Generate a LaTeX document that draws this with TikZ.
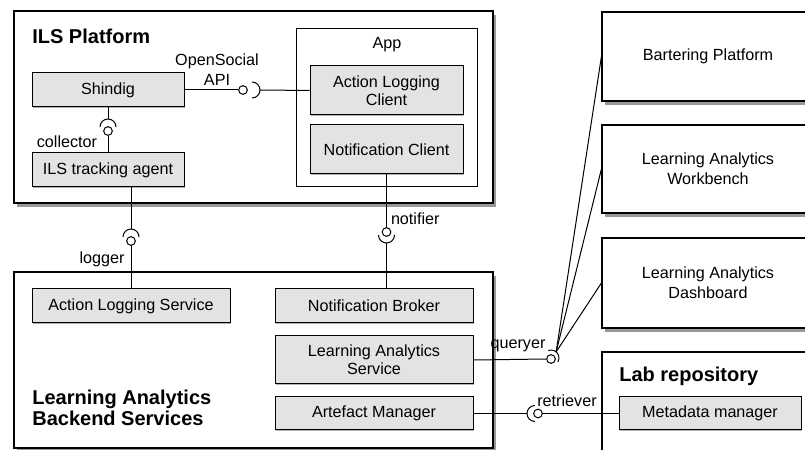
\documentclass[tikz,border=0pt]{standalone}
\usepackage{fontspec}
\setmainfont{Liberation Sans}
\usetikzlibrary{positioning, shadows}

\begin{document}
\begin{tikzpicture}[x=0.6pt, y=-0.6pt, font=\fontsize{9.7}{11}\selectfont,
    outer/.style={draw, line width=0.7pt, fill=white, inner sep=0pt, align=center,
        font=\fontsize{9.7}{12}\selectfont,
        drop shadow={shadow xshift=1.5pt, shadow yshift=-2.2pt, fill=black!40, opacity=1}},
    frame/.style={draw, line width=0.6pt, fill=white, inner sep=0pt},
    comp/.style={draw, line width=0.6pt, fill=gray!22, align=center, inner sep=0pt,
        drop shadow={shadow xshift=0.6pt, shadow yshift=-0.6pt, fill=black!30, opacity=1}},
    title/.style={font=\fontsize{12}{12.8}\selectfont\bfseries, anchor=west, align=left, inner sep=0pt},
    ball/.style={circle, draw, line width=0.6pt, fill=white, inner sep=0pt, minimum size=5.2pt},
    sock/.style={circle, inner sep=0pt, outer sep=0pt, minimum size=9.6pt},
    lbl/.style={inner sep=1pt},
    wire/.style={line width=0.6pt}]
    \useasboundingbox (0,0) rectangle (805,450);

    % ILS platform with the app inside
    \node[outer, minimum width=287.4pt, minimum height=115.2pt] (ils) at (253.5,107) {};
    \node[title] (ilstitle) at (32,36) {ILS Platform};
    \node[frame, minimum width=108.6pt, minimum height=94.8pt] (app) at (386.5,108) {};
    \node[lbl] (applbl) at (387,45) {App};
    \node[comp, minimum width=91.2pt, minimum height=20.4pt] (shindig) at (108,90) {Shindig};
    \node[comp, minimum width=91.2pt, minimum height=20.4pt] (agent) at (108,170) {ILS tracking agent};
    \node[comp, minimum width=91.8pt, minimum height=29.4pt] (alc) at (386.5,90.5) {Action Logging\\Client};
    \node[comp, minimum width=91.8pt, minimum height=29.4pt] (ncl) at (386.5,149.5) {Notification Client};

    % backend services
    \node[outer, minimum width=287.4pt, minimum height=105.6pt] (backend) at (253.5,360) {};
    \node[title] (betitle) at (32,408) {Learning Analytics\\Backend Services};
    \node[comp, minimum width=118.8pt, minimum height=20.4pt] (als) at (131,306) {Action Logging Service};
    \node[comp, minimum width=118.8pt, minimum height=20.4pt] (nb) at (374,306) {Notification Broker};
    \node[comp, minimum width=118.8pt, minimum height=28.8pt] (las) at (374,360) {Learning Analytics\\Service};
    \node[comp, minimum width=118.8pt, minimum height=19.8pt] (am) at (374,413.5) {Artefact Manager};

    % tools on the right
    \node[outer, minimum width=127.2pt, minimum height=53.4pt] (bart) at (708,56.5) {Bartering Platform};
    \node[outer, minimum width=127.2pt, minimum height=52.8pt] (wb) at (708,169) {Learning Analytics\\Workbench};
    \node[outer, minimum width=127.2pt, minimum height=54pt] (dash) at (708,283) {Learning Analytics\\Dashboard};
    \node[outer, minimum width=127.2pt, minimum height=70.8pt] (lab) at (708,411) {};
    \node[title] (labtitle) at (619,376) {Lab repository};
    \node[comp, minimum width=109.2pt, minimum height=19.8pt] (mm) at (710,413.5) {Metadata manager};

    % OpenSocial API
    \node[ball] (bOS) at (243,90) {};
    \node[sock] (sOS) at (252,90) {};
    \draw[wire] (shindig.east) -- (bOS.west);
    \draw[wire] (sOS.north) arc[start angle=90, end angle=-90, radius=4.8pt];
    \draw[wire] (sOS.east) -- (alc.west);
    \node[lbl, align=center, font=\fontsize{9.7}{12}\selectfont] (osapi) at (217,70) {OpenSocial\\API};

    % collector
    \node[sock] (sCol) at (108,127) {};
    \node[ball] (bCol) at (108,131) {};
    \draw[wire] (shindig.south) -- (sCol.north);
    \draw[wire] (sCol.west) arc[start angle=180, end angle=0, radius=4.8pt];
    \draw[wire] (bCol.south) -- (agent.north);
    \node[lbl] (collbl) at (67,142) {collector};

    % logger
    \node[sock] (sLog) at (131,237) {};
    \node[ball] (bLog) at (131,241) {};
    \draw[wire] (agent.south -| sLog) -- (sLog.north);
    \draw[wire] (sLog.west) arc[start angle=180, end angle=0, radius=4.8pt];
    \draw[wire] (bLog.south) -- (als.north);
    \node[lbl] (loglbl) at (102,259) {logger};

    % notifier
    \node[ball] (bNot) at (386.5,232) {};
    \node[sock] (sNot) at (386.5,235) {};
    \draw[wire] (ncl.south) -- (bNot.north);
    \draw[wire] (sNot.west) arc[start angle=180, end angle=360, radius=4.8pt];
    \draw[wire] (sNot.south) -- (nb.north -| sNot);
    \node[lbl, anchor=west] (notlbl) at (389,219) {notifier};

    % queryer
    \node[ball] (bQ) at (551,359) {};
    \node[sock] (sQ) at (551,358) {};
    \draw[wire] (las.east) -- (bQ.west);
    \draw[wire] (sQ.110) arc[start angle=110, end angle=-30, radius=4.8pt];
    \foreach \t in {bart, wb, dash}
        \draw[wire] (sQ.50) -- (\t.west);
    \node[lbl] (qlbl) at (518,346) {queryer};

    % retriever
    \node[sock] (sR) at (535,413.5) {};
    \node[ball] (bR) at (538,413.5) {};
    \draw[wire] (am.east) -- (sR.west);
    \draw[wire] (sR.north) arc[start angle=90, end angle=270, radius=4.8pt];
    \draw[wire] (bR.east) -- (mm.west);
    \node[lbl] (rlbl) at (567,401) {retriever};
\end{tikzpicture}
\end{document}
